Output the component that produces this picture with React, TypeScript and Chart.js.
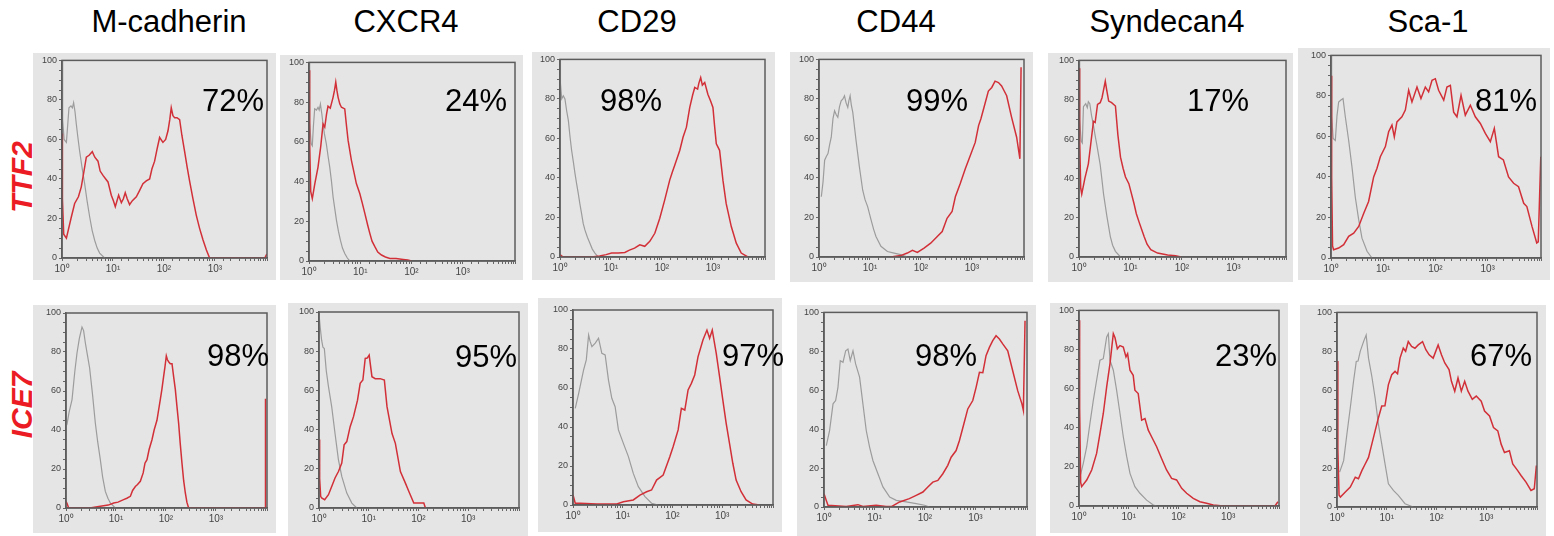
import React, { useEffect, useRef } from "react";
import { Chart, registerables } from "chart.js";

Chart.register(...registerables);

type Pt = [number, number];

const COLUMNS = ["M-cadherin", "CXCR4", "CD29", "CD44", "Syndecan4", "Sca-1"];
const ROWS = ["TTF2", "ICE7"];
const PERCENT_TTF2 = ["72%", "24%", "98%", "99%", "17%", "81%"];
const PERCENT_ICE7 = ["98%", "95%", "97%", "98%", "23%", "67%"];
const X_TICK_LABELS = ["10⁰", "10¹", "10²", "10³"];
const Y_LABEL_STEP = 20;
const X_MIN = 1;
const X_MAX = 10500;

// ---- TTF2 row ----
const TTF2_MCAD_RED: Pt[] = [[1,63],[1.02,30],[1.08,12],[1.22,10],[1.5,20],[1.77,27.6],[2.1,31],[2.39,36],[2.7,44],[3.0,51],[3.4,52],[3.93,53.8],[4.4,51],[5.08,49],[5.6,44],[6.37,41.8],[7.2,40],[7.98,38.5],[9.27,31.8],[10.2,29],[11.1,26],[12.0,29],[12.9,31.8],[14.6,28],[16,30],[17.4,33],[19,30],[21.2,27],[24,29],[28.7,31],[33,34],[38.7,37.6],[45,39],[52.4,40],[58,45],[65.6,49],[73,55],[82.2,61],[95.5,58.5],[108,60],[120,64.4],[130,70],[139,76],[150,72],[162,71],[180,71],[203,70],[225,62],[254,54],[285,46],[318,39],[370,30],[430,21.7],[500,15],[582,9.2],[680,4],[786,0],[2000,0],[5000,0],[9500,0],[10400,2]];
const TTF2_MCAD_GRAY: Pt[] = [[1,100],[1.03,70],[1.1,60],[1.22,58.5],[1.3,68],[1.37,76],[1.5,77],[1.6,76],[1.69,78.6],[1.8,74],[1.91,67.7],[2.05,61],[2.22,54],[2.5,45],[2.78,37.6],[3.1,29],[3.48,21],[3.9,14],[4.37,9],[4.9,5],[5.48,2.5],[6.87,0]];

const TTF2_CXCR4_RED: Pt[] = [[1,96],[1.03,60],[1.08,35],[1.16,31.4],[1.3,39],[1.5,47.3],[1.7,58],[1.88,69],[2.03,67.4],[2.2,74],[2.35,78],[2.6,77],[2.95,82.4],[3.15,86],[3.33,90],[3.5,86],[3.7,82.4],[4.0,79],[4.3,77.4],[4.99,76.6],[5.4,68],[5.8,60.7],[6.73,50.7],[7.5,45],[8.4,39],[9.8,34],[11,29],[12.3,24],[14,18],[15.4,13.9],[17,10],[19.3,7.2],[22,4.5],[26,3],[31,2],[38,1.3],[50,1.2],[69,0.8],[85,0.5],[100,0]];
const TTF2_CXCR4_GRAY: Pt[] = [[1,100],[1.03,70],[1.1,59],[1.16,58],[1.22,68],[1.29,76.6],[1.4,76],[1.5,77.4],[1.58,76],[1.67,79],[1.78,74],[1.88,69],[2.0,64],[2.18,59],[2.35,53],[2.54,47.3],[2.75,40],[2.95,32.3],[3.2,26],[3.43,20.6],[3.75,15],[4.1,10.5],[4.5,6.5],[4.99,3.8],[5.6,1.5],[6.25,0]];

const TTF2_CD29_RED: Pt[] = [[1,1.2],[1.15,0],[4.2,0],[6,0.5],[8,1.2],[10.3,2],[14,2],[18.7,2.3],[23,3.5],[29,4.5],[36.7,6.2],[46,5.4],[57.7,7.9],[72.4,12],[90.6,19.6],[113,28.8],[142,38.9],[160,43],[178,46.4],[224,54],[259,60.6],[302,65.7],[351,75.7],[400,82],[440,85.8],[500,85],[530,88],[575,90.8],[620,87],[690,88.3],[795,82.4],[900,79],[1000,75.7],[1080,66],[1164,57.3],[1350,54],[1570,38.9],[1820,27],[2290,15.4],[2870,7],[3590,2],[4840,0]];
const TTF2_CD29_GRAY: Pt[] = [[1,100],[1.02,88],[1.08,80],[1.16,81.6],[1.25,80],[1.35,74],[1.46,69],[1.57,61],[1.69,54],[1.83,48],[1.97,42.2],[2.12,37],[2.28,32.2],[2.45,27],[2.65,22],[2.85,17],[3.08,13.7],[3.45,10],[3.86,7],[4.3,4],[4.84,2],[5.6,0]];

const TTF2_CD44_RED: Pt[] = [[25.6,0],[40,0.7],[54,2],[68,3.4],[85,2.3],[115,4.5],[155,7],[209,10.4],[261,12.9],[325,19.6],[408,23],[473,30.5],[590,37.2],[741,44.7],[929,51.4],[1160,58],[1350,66.5],[1500,70],[1690,74.9],[2100,84],[2450,85.8],[2840,89],[3310,88.3],[3820,86.6],[4300,84],[4800,81.6],[6000,70.7],[7530,60.6],[8720,49.7],[9200,96]];
const TTF2_CD44_GRAY: Pt[] = [[1.11,30.5],[1.2,38],[1.29,49],[1.4,51],[1.5,52.3],[1.62,57],[1.74,60.6],[1.88,70],[2.02,74],[2.18,72],[2.34,70.7],[2.52,76],[2.72,79],[2.95,80],[3.16,81.6],[3.4,78],[3.67,75.7],[3.85,79],[4.08,81.6],[4.3,77],[4.6,73.2],[5.33,59],[6.2,45.6],[7.2,33.8],[8,29],[9,25.5],[10.5,18.8],[11.8,14],[13.1,10.4],[16.4,5.4],[22,2.8],[29.8,2],[40,1.2],[54,0]];

const TTF2_SDC4_RED: Pt[] = [[1,96],[1.03,60],[1.08,35],[1.13,32],[1.3,40],[1.52,47.4],[1.7,58],[1.91,69],[2.06,68.4],[2.29,77.6],[2.58,78.5],[2.8,81],[3.0,85],[3.24,89.4],[3.45,85],[3.77,79.3],[4.3,78.5],[5.1,76.8],[5.7,62],[6.4,50.8],[7.2,45],[8,40.7],[9.3,37.3],[10.5,32],[11.7,27.2],[13,22],[14.6,18],[16.5,14],[18.4,10.4],[21,6.5],[24.8,3.7],[33.6,2],[52.7,1],[75,0.6],[96,0]];
const TTF2_SDC4_GRAY: Pt[] = [[1,100],[1.03,70],[1.1,59],[1.16,58],[1.22,76.5],[1.35,78],[1.45,76],[1.52,79],[1.62,78],[1.75,72],[1.91,67],[2.05,62],[2.22,57],[2.58,47],[2.8,39],[3.0,32],[3.49,20.5],[4.06,10.4],[4.5,6],[5.1,2.9],[6.4,0]];

const TTF2_SCA1_RED: Pt[] = [[1,90],[1.03,40],[1.07,6],[1.12,4.1],[1.4,4.9],[1.75,6.6],[2.18,10.7],[2.72,12.3],[3.39,15.6],[4.22,22],[5.25,27.9],[6.56,40],[7.6,44.3],[8.8,50],[11,55],[12.7,62.3],[14.7,65.6],[16.3,59.8],[18.3,67.2],[22.8,69.7],[26.5,73],[30.7,82.8],[35.5,77],[44.3,84.4],[52.8,78.7],[64,84.4],[74,82],[86,87.7],[99.5,88.5],[115,82.8],[144,77.9],[166,84.4],[193,85.2],[223,72],[258,69.7],[309,80.3],[373,70.5],[466,75.4],[580,69.7],[724,66.4],[902,61.5],[1125,57.4],[1340,64],[1620,50],[2000,48.4],[2510,40],[3140,36.9],[3900,35.2],[4900,27],[5630,25.4],[7060,15.6],[8700,7.4],[9300,8],[10400,50]];
const TTF2_SCA1_GRAY: Pt[] = [[1,100],[1.03,70],[1.1,59],[1.21,58],[1.3,70],[1.4,77],[1.55,78],[1.7,78.7],[1.88,69.7],[2.18,58],[2.52,45],[2.92,30],[3.39,18.9],[3.92,9.8],[4.9,3.3],[6.1,0]];

// ---- ICE7 row ----
const ICE7_MCAD_RED: Pt[] = [[1,3.4],[1.06,2],[1.13,0],[3,0],[4.86,0.9],[7,1.5],[9,2.6],[11,3],[14.2,4.3],[16.5,5],[19.4,6],[21.5,9],[24.4,11],[27,12],[30.7,13.7],[35,18],[38,23],[41.7,24.8],[46,30],[52.5,35],[58,40],[66,45],[71,50],[77,55.6],[83,61],[89.8,67.5],[95,72],[101.6,78],[107,76],[113,75],[122,74],[132,74],[143,67],[154,60.7],[166,52],[179,43.6],[193,33],[209,23],[226,14],[244,7.7],[262,3],[284,0],[5000,0],[9600,0],[9800,56]];
const ICE7_MCAD_GRAY: Pt[] = [[1,42],[1.05,43],[1.15,49],[1.32,55.6],[1.5,70],[1.66,79.5],[1.85,87],[2.09,92.8],[2.25,91],[2.44,84.6],[2.7,78],[2.97,71.8],[3.4,58],[3.86,43.6],[4.3,34],[4.86,24.8],[5.4,16],[6.12,8.5],[6.9,5],[7.7,2.6],[9.7,0]];

const ICE7_CXCR4_RED: Pt[] = [[1,35],[1.03,15],[1.08,6],[1.13,5.1],[1.3,4.2],[1.55,6.8],[1.8,11],[2.1,15.3],[2.46,18.6],[2.87,22.9],[3.2,32.2],[3.62,33.9],[4.23,41.5],[4.94,46.6],[5.95,55],[6.73,63.6],[7.62,65.3],[8.5,76.3],[9.3,76.5],[10.2,78],[11.6,67],[13.5,66],[17,66],[20.6,65.3],[23.3,51.7],[29.4,38],[34.3,33],[43.3,18.6],[54.6,12.7],[63.8,8.5],[80.5,2.5],[128,2.5],[138,0]];
const ICE7_CXCR4_GRAY: Pt[] = [[1,99],[1.06,92],[1.13,85.6],[1.2,82],[1.28,81.4],[1.4,70],[1.55,61.9],[1.8,51.7],[2.1,38],[2.46,24.6],[2.87,16.1],[3.62,7.6],[4.57,2.5],[5.76,0]];

const ICE7_CD29_RED: Pt[] = [[1,5.1],[1.11,0.9],[1.4,0.9],[3,0.5],[7.6,0.5],[10.3,1.7],[16.3,2.6],[22.2,5.1],[30.2,6.8],[38,7.7],[47.9,12.8],[65,15.4],[88.4,24.8],[103,29.9],[130,38.5],[151,49.6],[177,48.7],[206,59],[240,62.4],[280,66.7],[326,76],[410,84.6],[493,89.7],[558,85.5],[631,89.7],[759,77.8],[885,65.8],[1030,53.8],[1202,41.9],[1402,31.6],[1634,21.4],[1905,12.8],[2400,6.8],[3020,2.6],[4100,0.5],[5580,0]];
const ICE7_CD29_GRAY: Pt[] = [[1.11,49.6],[1.3,57.3],[1.63,69.2],[1.85,74.4],[2.06,87.2],[2.2,84],[2.4,81.2],[2.8,83],[3.26,85.5],[3.5,82],[3.8,77.8],[4.43,77],[5.17,64],[6.03,54.7],[7.03,50.4],[8.19,38.5],[10.3,31.6],[13,24.8],[16.3,16.2],[20.6,9.4],[28,4.3],[38,0.9],[51.7,0]];

const ICE7_CD44_RED: Pt[] = [[1,6.8],[1.11,3.4],[1.2,0.9],[2.76,0.3],[4.7,1.2],[5.9,0.3],[10.8,0.9],[17,0.3],[22,0.3],[31.5,2.6],[49,4.3],[67,6],[91,7.7],[114,10.3],[143,12.8],[180,13.7],[226,17.1],[283,21.4],[330,25.6],[414,29],[482,34.2],[578,41.9],[705,50.4],[885,54.7],[1030,61.5],[1200,69.2],[1400,69],[1620,77.8],[1890,82],[2200,85.5],[2560,88],[2980,86.3],[3470,83.8],[4360,80.3],[5470,70],[6870,59.8],[8330,53],[8900,49.6],[9600,95.7]];
const ICE7_CD44_GRAY: Pt[] = [[1.11,31.6],[1.29,39.3],[1.51,53],[1.7,54.7],[1.89,61.5],[2.1,75.2],[2.38,74.4],[2.69,80.3],[2.98,81.2],[3.31,75.2],[3.75,80.3],[4.23,73.5],[5.07,66.7],[5.9,53],[6.87,39.3],[8,30.8],[9.3,23.9],[11.7,17.1],[14.7,10.3],[20,5.1],[27,3.4],[42.5,2.6],[67,1.7],[98,0.9],[123,0]];

const ICE7_SDC4_RED: Pt[] = [[1,95],[1.03,50],[1.08,12],[1.13,9.9],[1.43,13.3],[1.8,18.4],[2.26,26.9],[2.64,37],[3.08,47.3],[3.6,60.9],[4.2,72.8],[4.6,82],[4.9,88.1],[5.3,86],[5.9,80.4],[6.67,82],[7.77,81.3],[8.8,76.2],[9.5,77.9],[10.6,69.4],[12.3,66.8],[13.3,59.2],[15.5,57.5],[18.2,43.9],[21.2,44.7],[24.7,38.8],[28.8,35.4],[36.4,30.3],[45.7,24.3],[57.6,18.4],[72.8,14.1],[91.7,13.3],[116,9],[146,6.5],[198,3.9],[270,2.2],[367,1.4],[500,0.5],[795,0],[8700,0],[10000,2.2]];
const ICE7_SDC4_GRAY: Pt[] = [[1.05,15],[1.22,21.8],[1.43,30.3],[1.66,42.2],[1.94,54],[2.26,64.3],[2.64,74.5],[3.08,75.3],[3.6,86.4],[3.89,88.1],[4.2,74.5],[4.9,69.4],[5.7,59.2],[6.67,47.3],[7.77,35.4],[9.1,25.2],[10.6,16.7],[13.3,9.9],[16.8,6.5],[22.9,3],[31.2,0.5],[36.4,0]];

const ICE7_SCA1_RED: Pt[] = [[1,75],[1.04,30],[1.1,6],[1.17,5.1],[1.47,7.7],[1.85,10.2],[2.33,15.3],[2.7,14.5],[3.16,18.7],[3.69,22.1],[4.3,25.5],[5.01,32.3],[5.84,39.1],[6.81,45.9],[7.94,51.9],[9.2,52],[10.8,62.9],[12.6,68],[14.7,69.7],[16.5,68.5],[18.5,76.5],[21.5,81.6],[24,80],[27.1,85],[31.6,82.5],[36.9,81.6],[43,83.3],[52.5,85],[61.2,80.8],[71.3,78.2],[85.8,76.5],[108,83.3],[126,78.2],[147,74],[179,70.6],[200,64.6],[233,59.5],[271,66.3],[316,59.5],[369,64.6],[430,59.5],[525,55.3],[631,57],[794,54.4],[926,49.3],[1166,46.8],[1402,40.8],[1710,39.1],[1995,32.3],[2327,28],[2930,28.9],[3415,22.1],[4300,18.7],[5010,16.2],[6310,12.8],[7940,8.5],[9260,9.4],[10200,21.3]];
const ICE7_SCA1_GRAY: Pt[] = [[1.13,17.9],[1.36,23.8],[1.58,37.4],[1.85,51],[2.15,64.6],[2.44,74.8],[2.65,75],[2.93,80],[3.42,85],[3.86,88.4],[4.3,76.5],[5.01,67.2],[5.84,56],[6.81,42.5],[7.94,32.3],[9.26,22],[10.8,11.9],[13.6,8.5],[17.1,6],[23.3,1.7],[34.1,0]];

const TTF2_RED = [TTF2_MCAD_RED, TTF2_CXCR4_RED, TTF2_CD29_RED, TTF2_CD44_RED, TTF2_SDC4_RED, TTF2_SCA1_RED];
const TTF2_GRAY = [TTF2_MCAD_GRAY, TTF2_CXCR4_GRAY, TTF2_CD29_GRAY, TTF2_CD44_GRAY, TTF2_SDC4_GRAY, TTF2_SCA1_GRAY];
const ICE7_RED = [ICE7_MCAD_RED, ICE7_CXCR4_RED, ICE7_CD29_RED, ICE7_CD44_RED, ICE7_SDC4_RED, ICE7_SCA1_RED];
const ICE7_GRAY = [ICE7_MCAD_GRAY, ICE7_CXCR4_GRAY, ICE7_CD29_GRAY, ICE7_CD44_GRAY, ICE7_SDC4_GRAY, ICE7_SCA1_GRAY];

// ---- layout (page pixels): [bgLeft, bgTop, bgRight, bgBottom], [plotLeft, plotTop, plotRight, plotBottom]
type Rect = [number, number, number, number];
const LAYOUT_TTF2: { bg: Rect; plot: Rect }[] = [
  { bg: [33, 53, 276, 280], plot: [62, 59, 267, 258] },
  { bg: [280, 55, 523, 280], plot: [309, 62, 515, 261] },
  { bg: [532, 52, 775, 280], plot: [560, 58, 765, 257] },
  { bg: [790, 52, 1033, 282], plot: [819, 58, 1024, 257] },
  { bg: [1048, 53, 1293, 282], plot: [1079, 59, 1286, 257] },
  { bg: [1298, 48, 1550, 280], plot: [1331, 55, 1541, 258] },
];
const LAYOUT_ICE7: { bg: Rect; plot: Rect }[] = [
  { bg: [33, 305, 276, 533], plot: [66, 313, 267, 508] },
  { bg: [288, 303, 528, 536], plot: [319, 312, 519, 508] },
  { bg: [538, 298, 782, 532], plot: [573, 310, 773, 505] },
  { bg: [797, 305, 1036, 536], plot: [824, 312, 1027, 507] },
  { bg: [1050, 303, 1288, 533], plot: [1079, 310, 1279, 506] },
  { bg: [1300, 305, 1546, 536], plot: [1337, 311, 1537, 507] },
];
const TITLE_X = [169, 406, 637, 896, 1167, 1428];
const PCT_POS_TTF2: [number, number][] = [[202, 101], [445, 101], [600, 101], [906, 101], [1187, 101], [1475, 101]];
const PCT_POS_ICE7: [number, number][] = [[207, 356], [455, 357], [722, 356], [915, 356], [1215, 356], [1470, 356]];
const ROW_LABEL_Y = [177, 405];

const FONT = 'Arial, "Liberation Sans", Helvetica, sans-serif';
const YW = 24;
const XH = 18;

const framePlugin = {
  id: "frame",
  afterDraw(chart: any) {
    const { ctx, chartArea } = chart;
    ctx.save();
    ctx.strokeStyle = "#5c5c5c";
    ctx.lineWidth = 1.5;
    ctx.strokeRect(chartArea.left, chartArea.top, chartArea.right - chartArea.left, chartArea.bottom - chartArea.top);
    ctx.restore();
  },
};

function xLabel(v: number): string {
  const l = Math.log10(v);
  const r = Math.round(l);
  if (Math.abs(l - r) < 1e-6 && r >= 0 && r < X_TICK_LABELS.length) return X_TICK_LABELS[r];
  return "";
}

function Panel({ bg, plot, red, gray }: { bg: Rect; plot: Rect; red: Pt[]; gray: Pt[] }) {
  const ref = useRef<HTMLCanvasElement>(null);
  const w = bg[2] - bg[0];
  const h = bg[3] - bg[1];
  useEffect(() => {
    if (!ref.current) return;
    const grid = { display: true, drawOnChartArea: false, drawTicks: true, tickLength: 3, color: "#666", lineWidth: 1 };
    const chart = new Chart(ref.current, {
      type: "scatter",
      data: {
        datasets: [
          { data: red.map(([x, y]) => ({ x, y })), showLine: true, borderColor: "#d23038", borderWidth: 1.5, pointRadius: 0, tension: 0 },
          { data: gray.map(([x, y]) => ({ x, y })), showLine: true, borderColor: "#9c9c9c", borderWidth: 1.2, pointRadius: 0, tension: 0 },
        ],
      },
      options: {
        animation: false,
        responsive: false,
        events: [],
        plugins: { legend: { display: false }, tooltip: { enabled: false } },
        layout: {
          padding: {
            left: plot[0] - bg[0] - YW,
            top: plot[1] - bg[1],
            right: bg[2] - plot[2],
            bottom: bg[3] - plot[3] - XH,
          },
        },
        scales: {
          x: {
            type: "logarithmic",
            min: X_MIN,
            max: X_MAX,
            afterFit: (s: any) => { s.height = XH; },
            grid,
            border: { display: true, color: "#5c5c5c", width: 1.5 },
            ticks: {
              autoSkip: false,
              maxRotation: 0,
              minRotation: 0,
              padding: 2,
              color: "#444",
              font: { size: 10, family: FONT },
              callback: (v: any) => xLabel(Number(v)),
            },
          },
          y: {
            min: 0,
            max: 100,
            afterFit: (s: any) => { s.width = YW; },
            grid,
            border: { display: true, color: "#5c5c5c", width: 1.5 },
            ticks: {
              stepSize: 5,
              autoSkip: false,
              padding: 2,
              color: "#444",
              font: { size: 9, family: FONT },
              callback: (v: any) => (Number(v) % Y_LABEL_STEP === 0 ? String(v) : ""),
            },
          },
        },
      } as any,
      plugins: [framePlugin],
    });
    return () => chart.destroy();
  }, []);
  return (
    <div style={{ position: "absolute", left: bg[0], top: bg[1], width: w, height: h, background: "#e5e5e5" }}>
      <canvas ref={ref} width={w} height={h} style={{ display: "block" }} />
    </div>
  );
}

export default function App() {
  const rows = [
    { layout: LAYOUT_TTF2, red: TTF2_RED, gray: TTF2_GRAY, pct: PERCENT_TTF2, pos: PCT_POS_TTF2 },
    { layout: LAYOUT_ICE7, red: ICE7_RED, gray: ICE7_GRAY, pct: PERCENT_ICE7, pos: PCT_POS_ICE7 },
  ];
  return (
    <div style={{ position: "absolute", left: 0, top: 0, width: 1554, height: 536, background: "#fff", fontFamily: FONT, overflow: "hidden" }}>
      {COLUMNS.map((c, i) => (
        <div key={c} style={{ position: "absolute", left: TITLE_X[i], top: 22, transform: "translate(-50%, -50%)", fontSize: 31, color: "#000", whiteSpace: "nowrap" }}>
          {c}
        </div>
      ))}
      {ROWS.map((r, i) => (
        <div key={r} style={{ position: "absolute", left: 22, top: ROW_LABEL_Y[i], transform: "translate(-50%, -50%) rotate(-90deg)", fontSize: 30, fontWeight: "bold", fontStyle: "italic", color: "#ec1c24", whiteSpace: "nowrap" }}>
          {r}
        </div>
      ))}
      {rows.map((row, ri) =>
        row.layout.map((L, i) => (
          <Panel key={`${ri}-${i}`} bg={L.bg} plot={L.plot} red={row.red[i]} gray={row.gray[i]} />
        ))
      )}
      {rows.map((row, ri) =>
        row.pct.map((p, i) => (
          <div key={`p${ri}-${i}`} style={{ position: "absolute", left: row.pos[i][0], top: row.pos[i][1], transform: "translateY(-50%)", fontSize: 31, color: "#000", whiteSpace: "nowrap" }}>
            {p}
          </div>
        ))
      )}
    </div>
  );
}
